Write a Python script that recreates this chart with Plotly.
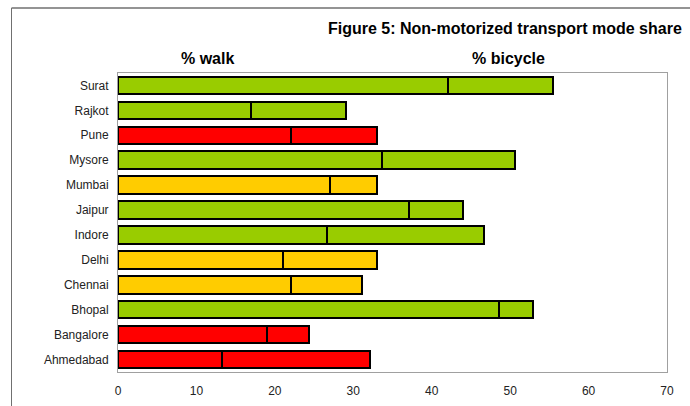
import plotly.graph_objects as go

cities = ["Ahmedabad", "Bangalore", "Bhopal", "Chennai", "Delhi", "Indore",
          "Jaipur", "Mumbai", "Mysore", "Pune", "Rajkot", "Surat"]
walk = [13.2, 19.0, 48.6, 22.0, 21.0, 26.6, 37.1, 27.0, 33.7, 22.0, 16.9, 42.1]
bicycle = [18.9, 5.4, 4.3, 9.1, 12.0, 20.1, 6.9, 6.0, 16.9, 11.0, 12.2, 13.4]
colors = ["#FF0000", "#FF0000", "#99CC00", "#FFCC00", "#FFCC00", "#99CC00",
          "#99CC00", "#FFCC00", "#99CC00", "#FF0000", "#99CC00", "#99CC00"]
x_ticks = [0, 10, 20, 30, 40, 50, 60, 70]

W, H = 690, 406
L, R, T, B = 118, 667, 73, 372

fig = go.Figure()
for name, vals in [("% walk", walk), ("% bicycle", bicycle)]:
    fig.add_trace(go.Bar(
        y=cities, x=vals, orientation="h", name=name,
        marker=dict(color=colors, line=dict(color="black", width=2)),
        showlegend=False,
    ))

def px(x):
    return (x - L) / (R - L)

def py(y):
    return (B - y) / (B - T)

font = "Liberation Sans, Arial, sans-serif"
fig.update_layout(
    width=W, height=H,
    margin=dict(l=L, r=W - R, t=T, b=H - B),
    barmode="stack", bargap=0.3,
    plot_bgcolor="white", paper_bgcolor="white",
    font=dict(family=font, size=12, color="#222"),
    xaxis=dict(range=[0, 70], tickvals=x_ticks, showgrid=False, zeroline=False,
               showline=True, linecolor="#A0A0A0", linewidth=1, mirror=True,
               ticks="outside", ticklen=8, tickcolor="white", automargin=False,
               tickfont=dict(size=12, color="#222")),
    yaxis=dict(categoryorder="array", categoryarray=cities, showgrid=False,
               showline=True, linecolor="#A0A0A0", linewidth=1, mirror=True,
               ticks="outside", ticklen=6, tickcolor="white", automargin=False,
               tickfont=dict(size=12, color="#222"), range=[-0.5, 11.5]),
    shapes=[
        dict(type="line", xref="paper", yref="paper", x0=px(11.5), x1=px(700),
             y0=py(8), y1=py(8), line=dict(color="#707070", width=1.5)),
        dict(type="line", xref="paper", yref="paper", x0=px(11.5), x1=px(11.5),
             y0=py(8), y1=py(410), line=dict(color="#707070", width=1)),
    ],
    annotations=[
        dict(text="<b>Figure 5: Non-motorized transport mode share</b>",
             xref="paper", yref="paper", x=px(684), y=py(28), xanchor="right",
             yanchor="middle", showarrow=False,
             font=dict(family=font, size=16, color="black")),
        dict(text="<b>% walk</b>", xref="paper", yref="paper", x=px(207),
             y=py(58), xanchor="center", yanchor="middle", showarrow=False,
             font=dict(family=font, size=16, color="black")),
        dict(text="<b>% bicycle</b>", xref="paper", yref="paper", x=px(508),
             y=py(58), xanchor="center", yanchor="middle", showarrow=False,
             font=dict(family=font, size=16, color="black")),
    ],
)

fig.write_html("out.html", config={"displayModeBar": False},
               post_script="document.body.style.margin='0';document.body.style.overflow='hidden';")
